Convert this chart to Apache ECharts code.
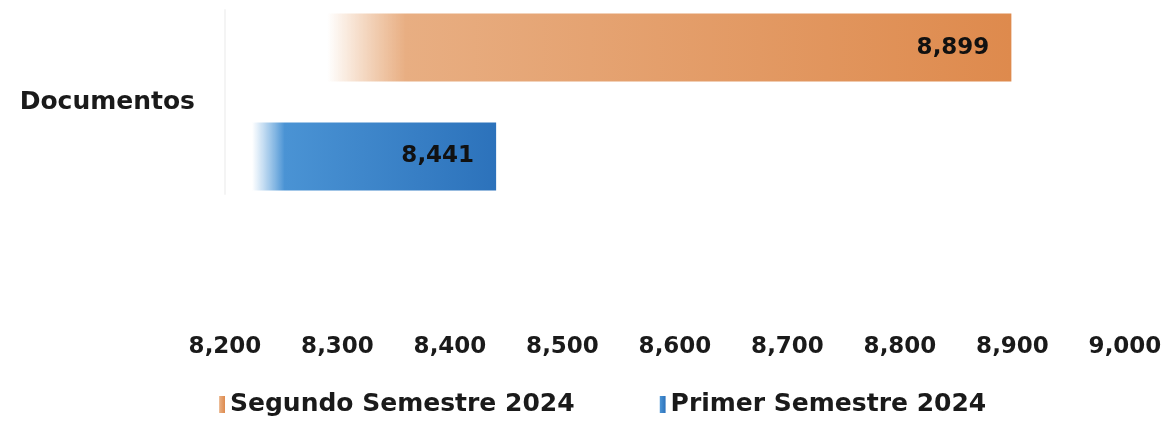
<!DOCTYPE html>
<html>
<head>
<meta charset="utf-8">
<script src="https://cdn.jsdelivr.net/npm/echarts@6/dist/echarts.min.js"></script>
<style>
  html, body { margin: 0; padding: 0; background: #fff; }
  #chart { width: 1173px; height: 428px; }
</style>
</head>
<body>
<div id="chart"></div>
<script>
// chart data
const categories = ['Documentos'];
const segundoSemestre = [8899];
const primerSemestre = [8441];
const seriesNames = ['Segundo Semestre 2024', 'Primer Semestre 2024'];

const chart = echarts.init(document.getElementById('chart'));
const fmt = v => v.toLocaleString('en-US');
const font = '"DejaVu Sans", sans-serif';

chart.setOption({
  animation: false,
  color: ['#e09a63', '#3a84c8'],
  textStyle: { fontFamily: font },
  grid: { left: 225, right: 48, top: 10, height: 184 },
  xAxis: {
    type: 'value',
    min: 8200,
    max: 9000,
    interval: 100,
    splitLine: { show: false },
    axisLine: { show: false },
    axisTick: { show: false },
    axisLabel: {
      margin: 142,
      color: '#1a1a1a',
      fontSize: 23,
      fontWeight: 'bold',
      formatter: fmt
    }
  },
  yAxis: {
    type: 'category',
    data: categories,
    axisLine: { lineStyle: { color: '#f4f4f4', width: 2 } },
    axisTick: { show: false },
    axisLabel: { margin: 30, color: '#1a1a1a', fontSize: 25, fontWeight: 'bold' }
  },
  legend: {
    bottom: 6,
    left: 213,
    itemGap: 84,
    itemWidth: 7,
    itemHeight: 17,
    icon: 'rect',
    data: seriesNames,
    textStyle: { fontSize: 25, color: '#1a1a1a', fontWeight: 'bold' }
  },
  series: [
    {
      name: seriesNames[0],
      type: 'bar',
      data: segundoSemestre,
      barWidth: 68,
      barGap: '60%',
      itemStyle: {
        color: new echarts.graphic.LinearGradient(0, 0, 1, 0, [
          { offset: 0, color: 'rgba(232,170,120,0)' },
          { offset: 0.13, color: 'rgba(232,170,120,0)' },
          { offset: 0.23, color: '#e8ae82' },
          { offset: 1, color: '#de8a4d' }
        ])
      },
      label: {
        show: true,
        position: 'insideRight',
        distance: 22,
        color: '#111',
        fontSize: 23,
        fontWeight: 'bold',
        formatter: p => fmt(p.value)
      }
    },
    {
      name: seriesNames[1],
      type: 'bar',
      data: primerSemestre,
      barWidth: 68,
      barGap: '60%',
      itemStyle: {
        color: new echarts.graphic.LinearGradient(0, 0, 1, 0, [
          { offset: 0, color: 'rgba(90,160,220,0)' },
          { offset: 0.1, color: 'rgba(90,160,220,0)' },
          { offset: 0.22, color: '#4a93d4' },
          { offset: 1, color: '#2c72bb' }
        ])
      },
      label: {
        show: true,
        position: 'insideRight',
        distance: 22,
        color: '#111',
        fontSize: 23,
        fontWeight: 'bold',
        formatter: p => fmt(p.value)
      }
    }
  ]
});
</script>
</body>
</html>
